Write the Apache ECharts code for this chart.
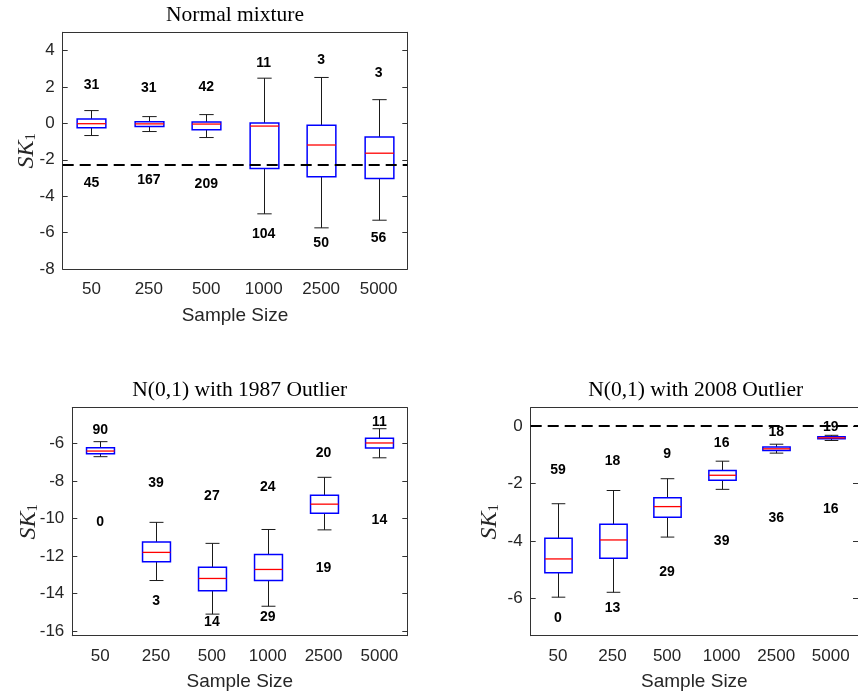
<!DOCTYPE html>
<html><head><meta charset="utf-8">
<script src="https://cdn.jsdelivr.net/npm/echarts@6/dist/echarts.min.js"></script>
<style>html,body{margin:0;padding:0;background:#fff}#c{width:858px;height:695px}</style>
</head><body><div id="c"></div>
<script>
// ---------- DATA ----------
const categories = ['50', '250', '500', '1000', '2500', '5000'];

// Panel 1: Normal mixture
const nmWhiskerLow  = [-0.67, -0.45, -0.78, -4.97, -5.74, -5.32];
const nmQ1          = [-0.24, -0.18, -0.35, -2.48, -2.94, -3.03];
const nmMedian      = [-0.02, -0.03, -0.04, -0.15, -1.19, -1.64];
const nmQ3          = [0.24, 0.09, 0.07, 0.02, -0.11, -0.75];
const nmWhiskerHigh = [0.70, 0.37, 0.48, 2.48, 2.52, 1.30];
const nmCountAbove  = [31, 31, 42, 11, 3, 3];
const nmCountAboveY = [2.12, 1.96, 2.01, 3.32, 3.49, 2.74];
const nmCountBelow  = [45, 167, 209, 104, 50, 56];
const nmCountBelowY = [-3.29, -3.12, -3.34, -6.10, -6.58, -6.30];
const nmReference   = -2.25;
const nmTicks       = [-8, -6, -4, -2, 0, 2, 4];

// Panel 2: N(0,1) with 1987 Outlier
const o87WhiskerLow  = [-6.71, -13.31, -15.10, -14.68, -10.61, -6.77];
const o87Q1          = [-6.55, -12.31, -13.86, -13.31, -9.72, -6.25];
const o87Median      = [-6.41, -11.81, -13.20, -12.72, -9.24, -5.98];
const o87Q3          = [-6.23, -11.26, -12.60, -11.92, -8.76, -5.73];
const o87WhiskerHigh = [-5.91, -10.21, -11.33, -10.59, -7.81, -5.22];
const o87CountAbove  = [90, 39, 27, 24, 20, 11];
const o87CountAboveY = [-5.31, -8.13, -8.81, -8.33, -6.52, -4.85];
const o87CountBelow  = [0, 3, 14, 29, 19, 14];
const o87CountBelowY = [-10.21, -14.41, -15.55, -15.26, -12.67, -10.11];
const o87Ticks       = [-16, -14, -12, -10, -8, -6];

// Panel 3: N(0,1) with 2008 Outlier
const o08WhiskerLow  = [-5.96, -5.79, -3.87, -2.21, -0.95, -0.51];
const o08Q1          = [-5.11, -4.61, -3.18, -1.89, -0.86, -0.45];
const o08Median      = [-4.63, -3.97, -2.81, -1.72, -0.80, -0.42];
const o08Q3          = [-3.91, -3.42, -2.50, -1.55, -0.74, -0.38];
const o08WhiskerHigh = [-2.71, -2.25, -1.84, -1.23, -0.64, -0.33];
const o08CountAbove  = [59, 18, 9, 16, 18, 19];
const o08CountAboveY = [-1.54, -1.23, -0.99, -0.60, -0.22, -0.03];
const o08CountBelow  = [0, 13, 29, 39, 36, 16];
const o08CountBelowY = [-6.69, -6.34, -5.09, -4.02, -3.21, -2.91];
const o08Reference   = 0;
const o08Ticks       = [-6, -4, -2, 0];

// ---------- LAYOUT ----------
const SANS = 'Liberation Sans, Arial, sans-serif';
const SERIF = 'Liberation Serif, Times New Roman, serif';
const AX = '#333333';

const panels = [
  { title: 'Normal mixture', grid: { left: 62.7, top: 32.3, width: 344.6, height: 236.7 },
    titleY: 15, yMin: -8, yMax: 5, ticks: nmTicks, ref: nmReference, yNameGap: 24,
    lo: nmWhiskerLow, q1: nmQ1, md: nmMedian, q3: nmQ3, hi: nmWhiskerHigh,
    ca: nmCountAbove, caY: nmCountAboveY, cb: nmCountBelow, cbY: nmCountBelowY },
  { title: 'N(0,1) with 1987 Outlier', grid: { left: 72.3, top: 407.7, width: 335, height: 228 },
    titleY: 390.5, yMin: -16.25, yMax: -4.1, ticks: o87Ticks, ref: null, yNameGap: 32,
    lo: o87WhiskerLow, q1: o87Q1, md: o87Median, q3: o87Q3, hi: o87WhiskerHigh,
    ca: o87CountAbove, caY: o87CountAboveY, cb: o87CountBelow, cbY: o87CountBelowY },
  { title: 'N(0,1) with 2008 Outlier', grid: { left: 530.7, top: 407.7, width: 330, height: 228 },
    titleY: 390.5, yMin: -7.3, yMax: 0.63, ticks: o08Ticks, ref: o08Reference, yNameGap: 28.7,
    lo: o08WhiskerLow, q1: o08Q1, md: o08Median, q3: o08Q3, hi: o08WhiskerHigh,
    ca: o08CountAbove, caY: o08CountAboveY, cb: o08CountBelow, cbY: o08CountBelowY }
];

function boxRender(params, api) {
  const x = api.value(0);
  const lo = api.coord([x, api.value(1)]);
  const q1 = api.coord([x, api.value(2)]);
  const md = api.coord([x, api.value(3)]);
  const q3 = api.coord([x, api.value(4)]);
  const hi = api.coord([x, api.value(5)]);
  const band = api.size([1, 0])[0];
  const hw = band * 0.25, cw = band * 0.125;
  const cx = Math.round(lo[0]) + 0.5;
  const wStyle = { stroke: '#1a1a1a', lineWidth: 1 };
  return { type: 'group', children: [
    { type: 'line', shape: { x1: cx, y1: hi[1], x2: cx, y2: q3[1] }, style: wStyle },
    { type: 'line', shape: { x1: cx, y1: q1[1], x2: cx, y2: lo[1] }, style: wStyle },
    { type: 'line', shape: { x1: cx - cw, y1: hi[1], x2: cx + cw, y2: hi[1] }, style: wStyle },
    { type: 'line', shape: { x1: cx - cw, y1: lo[1], x2: cx + cw, y2: lo[1] }, style: wStyle },
    { type: 'rect', shape: { x: cx - hw, y: q3[1], width: 2 * hw, height: q1[1] - q3[1] },
      style: { fill: 'none', stroke: '#0000ff', lineWidth: 1.5 } },
    { type: 'line', shape: { x1: cx - hw, y1: md[1], x2: cx + hw, y2: md[1] },
      style: { stroke: '#ff0000', lineWidth: 1.3 } }
  ]};
}

function textRender(params, api) {
  const p = api.coord([api.value(0), api.value(1)]);
  return { type: 'text', x: p[0], y: p[1], style: {
    text: String(api.value(2)), fill: '#000', textAlign: 'center', textVerticalAlign: 'middle',
    font: 'bold 14px ' + SANS } };
}

const grid = [], xAxis = [], yAxis = [], series = [], graphic = [];

panels.forEach((p, i) => {
  grid.push(Object.assign({ containLabel: false }, p.grid));
  const tickStyle = { lineStyle: { color: AX, width: 1 } };
  xAxis.push({
    type: 'category', gridIndex: i, data: categories, boundaryGap: true, position: 'bottom',
    axisLine: { onZero: false, lineStyle: { color: AX, width: 1 } },
    axisTick: Object.assign({ inside: true, alignWithLabel: true, length: 5 }, tickStyle),
    axisLabel: { fontSize: 17, color: '#262626', fontFamily: SANS, margin: 12 },
    name: 'Sample Size', nameLocation: 'middle', nameGap: 37, nameMoveOverlap: false,
    nameTextStyle: { fontSize: 19, color: '#262626', fontFamily: SANS },
    splitLine: { show: false }
  });
  xAxis.push({
    type: 'category', gridIndex: i, data: categories, boundaryGap: true, position: 'top',
    axisLine: { onZero: false, lineStyle: { color: AX, width: 1 } },
    axisTick: Object.assign({ inside: true, alignWithLabel: true, length: 5 }, tickStyle),
    axisLabel: { show: false }, splitLine: { show: false }
  });
  yAxis.push({
    type: 'value', gridIndex: i, min: p.yMin, max: p.yMax, position: 'left',
    axisLine: { show: true, onZero: false, lineStyle: { color: AX, width: 1 } },
    axisTick: Object.assign({ show: true, inside: true, length: 5, customValues: p.ticks }, tickStyle),
    axisLabel: { customValues: p.ticks, fontSize: 17, color: '#262626', fontFamily: SANS, margin: 8 },
    splitLine: { show: false },
    name: '{i|SK}{s|1}', nameLocation: 'middle', nameGap: p.yNameGap, nameRotate: 90,
    nameMoveOverlap: false,
    nameTextStyle: { color: '#262626', rich: {
      i: { fontFamily: SERIF, fontStyle: 'italic', fontSize: 24, color: '#262626' },
      s: { fontFamily: SERIF, fontSize: 15, color: '#262626', verticalAlign: 'bottom', padding: [9, 0, 0, 0] }
    } }
  });
  yAxis.push({
    type: 'value', gridIndex: i, min: p.yMin, max: p.yMax, position: 'right',
    axisLine: { show: true, onZero: false, lineStyle: { color: AX, width: 1 } },
    axisTick: Object.assign({ show: true, inside: true, length: 5, customValues: p.ticks }, tickStyle),
    axisLabel: { show: false }, splitLine: { show: false }
  });

  const boxData = categories.map((c, k) => [k, p.lo[k], p.q1[k], p.md[k], p.q3[k], p.hi[k]]);
  const s = {
    type: 'custom', xAxisIndex: 2 * i, yAxisIndex: 2 * i, renderItem: boxRender,
    data: boxData, encode: { x: 0, y: [1, 2, 3, 4, 5] }, silent: true, z: 3
  };
  if (p.ref !== null) {
    s.markLine = { silent: true, symbol: 'none', label: { show: false },
      lineStyle: { color: '#000', width: 2, type: [11, 6] }, data: [{ yAxis: p.ref }] };
  }
  series.push(s);
  const labelData = [];
  categories.forEach((c, k) => {
    labelData.push([k, p.caY[k], p.ca[k]]);
    labelData.push([k, p.cbY[k], p.cb[k]]);
  });
  series.push({
    type: 'custom', xAxisIndex: 2 * i, yAxisIndex: 2 * i, renderItem: textRender,
    data: labelData, encode: { x: 0, y: 1 }, silent: true, z: 5
  });

  graphic.push({ type: 'text', x: p.grid.left + p.grid.width / 2, y: p.titleY,
    style: { text: p.title, font: '21.5px ' + SERIF, fill: '#000', textAlign: 'center', textVerticalAlign: 'middle' } });
});

const chart = echarts.init(document.getElementById('c'), null, { renderer: 'canvas' });
chart.setOption({ animation: false, backgroundColor: '#fff', grid, xAxis, yAxis, series, graphic });
</script>
</body></html>
